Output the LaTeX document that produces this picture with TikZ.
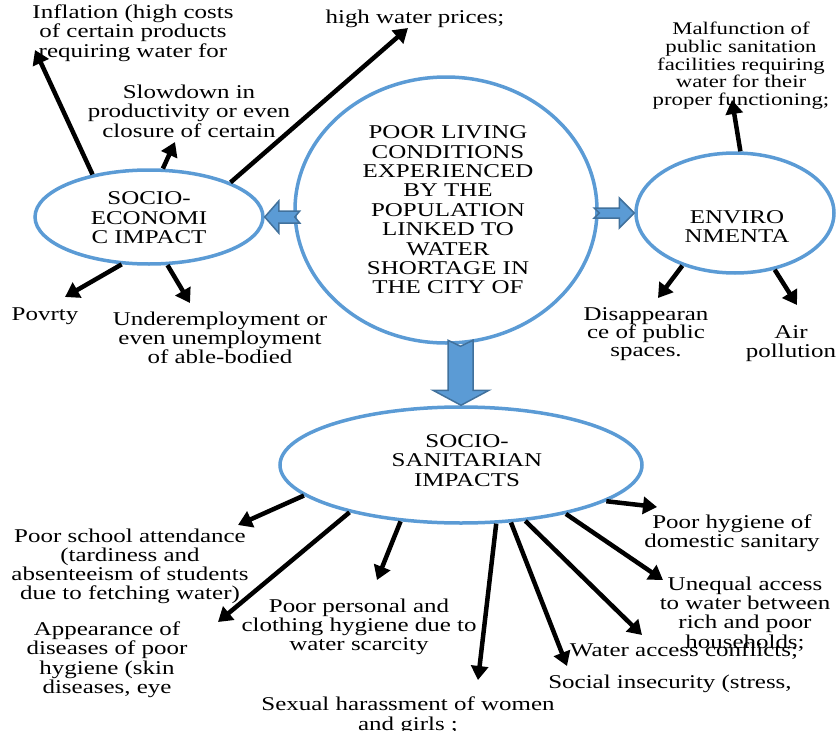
\documentclass[tikz,border=0pt]{standalone}
\usepackage{fontspec}
\setmainfont{Liberation Serif}[FakeStretch=1.28]
\usetikzlibrary{arrows.meta,shapes.geometric,calc}
\definecolor{ellblue}{HTML}{5B9BD5}
\definecolor{darkblue}{HTML}{41719C}
\begin{document}
\begin{tikzpicture}[x=1pt,y=-1pt,
  ell/.style={draw=ellblue, line width=3.5pt, ellipse, inner sep=0pt},
  elltext/.style={align=center, inner sep=0pt, font=\fontsize{19.5}{19.4}\selectfont},
  lbl/.style={align=center, inner sep=0pt, anchor=north, font=\fontsize{19.5}{19.4}\selectfont, execute at begin node={\rule{0pt}{15pt}}},
  imp/.style={line width=4.5pt, -{Triangle[length=14pt,width=17pt]}},
  blockarrow/.style={fill=ellblue, draw=darkblue, line width=1.5pt, line join=miter},
]
\useasboundingbox (0,0) rectangle (836,731);

% ellipses
\node[ell, minimum width=302pt, minimum height=266pt,
  label={[elltext,shift={(2pt,0pt)}]center:{POOR LIVING\\CONDITIONS\\EXPERIENCED\\BY THE\\POPULATION\\LINKED TO\\WATER\\SHORTAGE IN\\THE CITY OF}}] (cent) at (446,210) {};
\node[ell, minimum width=228pt, minimum height=94pt,
  label={[elltext,shift={(0pt,-1pt)}]center:{SOCIO-\\ECONOMI\\C IMPACT}}] (se) at (149,217) {};
\node[ell, minimum width=198pt, minimum height=120pt,
  label={[elltext,shift={(2pt,-13.5pt)}]center:{ENVIRO\\NMENTA}}] (env) at (735,213) {};
\node[ell, minimum width=362pt, minimum height=116pt,
  label={[elltext,shift={(6pt,4.5pt)}]center:{SOCIO-\\SANITARIAN\\IMPACTS}}] (san) at (461,465) {};

% block arrows
\draw[blockarrow] (se.east) -- ++(14,-16) -- ++(0,10) -- ++(21,0) -- ++(-5,6) -- ++(5,6) -- ++(-21,0) -- ++(0,10) -- cycle;
\draw[blockarrow] (env.west) -- ++(-15,-15) -- ++(0,10) -- ++(-25,0) -- ++(5,5) -- ++(-5,5) -- ++(25,0) -- ++(0,10) -- cycle;
\draw[blockarrow] (san.north) -- ++(-28,-15) -- ++(15,0) -- ++(0,-50) -- ++(12.5,6) -- ++(12.5,-6) -- ++(0,50) -- ++(16,0) -- cycle;

% labels
\node[lbl] (infl) at (133,4.5) {Inflation (high costs\\of certain products\\requiring water for};
\node[lbl] (price) at (415,8.5) {high water prices;};
\node[lbl, font=\fontsize{19.5}{19.5}\selectfont] (slow) at (189,84.5) {Slowdown in\\productivity or even\\closure of certain};
\node[lbl, font=\fontsize{17.8}{17.7}\selectfont] (malf) at (741,21.9) {Malfunction of\\public sanitation\\facilities requiring\\water for their\\proper functioning;};
\node[lbl] (pov) at (45,305.5) {Povrty};
\node[lbl, font=\fontsize{19.5}{19}\selectfont] (under) at (220,311.5) {Underemployment or\\even unemployment\\of able-bodied};
\node[lbl, font=\fontsize{19.5}{18}\selectfont] (disap) at (646,307.5) {Disappearan\\ce of public\\spaces.};
\node[lbl, font=\fontsize{19.5}{19}\selectfont] (air) at (791,325.5) {Air\\pollution};
\node[lbl, font=\fontsize{19.5}{19}\selectfont] (school) at (130,528.5) {Poor school attendance\\(tardiness and\\absenteeism of students\\due to fetching water)};
\node[lbl, font=\fontsize{19.5}{19.3}\selectfont] (appear) at (107,621.5) {Appearance of\\diseases of poor\\hygiene (skin\\diseases, eye};
\node[lbl, font=\fontsize{19.5}{19}\selectfont] (pers) at (359,598.5) {Poor personal and\\clothing hygiene due to\\water scarcity};
\node[lbl, font=\fontsize{19.5}{20}\selectfont] (sex) at (408,696.5) {Sexual harassment of women\\and girls ;};
\node[lbl, font=\fontsize{19.5}{19}\selectfont] (dom) at (732,514.5) {Poor hygiene of\\domestic sanitary};
\node[lbl, font=\fontsize{19.5}{19.3}\selectfont] (uneq) at (745,576.5) {Unequal access\\to water between\\rich and poor\\households;};
\node[lbl] (wac) at (684,641.5) {Water access conflicts;};
\node[lbl] (soc) at (670,673.5) {Social insecurity (stress,};

% arrow tips
\coordinate (tInfl) at (35,50);
\coordinate (tSlow) at (175,142);
\coordinate (tPrice) at (408,28);
\coordinate (tPov) at (65,297);
\coordinate (tUnder) at (190,303);
\coordinate (tMalf) at (732,100);
\coordinate (tDisap) at (658,298);
\coordinate (tAir) at (797,305);
\coordinate (tSchool) at (238,525);
\coordinate (tAppear) at (218,622);
\coordinate (tPers) at (377,580);
\coordinate (tSex) at (478,680);
\coordinate (tSoc) at (567,666);
\coordinate (tWac) at (642,635);
\coordinate (tUneq) at (663,580);
\coordinate (tDom) at (657,507);

% impact arrows
\draw[imp] (se.143) -- (tInfl);
\draw[imp] (se.74) -- (tSlow);
\draw[imp] (se.23) -- (tPrice);
\draw[imp] (se.240) -- (tPov);
\draw[imp] (se.291) -- (tUnder);
\draw[imp] (env.85) -- (tMalf);
\draw[imp] (env.225) -- (tDisap);
\draw[imp] (env.305) -- (tAir);
\draw[imp] (san.191) -- (tSchool);
\draw[imp] (san.203) -- (tAppear);
\draw[imp] (san.223) -- (tPers);
\draw[imp] (san.301) -- (tSex);
\draw[imp] (san.311) -- (tSoc);
\draw[imp] (san.319) -- (tWac);
\draw[imp] (san.335) -- (tUneq);
\draw[imp] (san.346) -- (tDom);
\end{tikzpicture}
\end{document}
